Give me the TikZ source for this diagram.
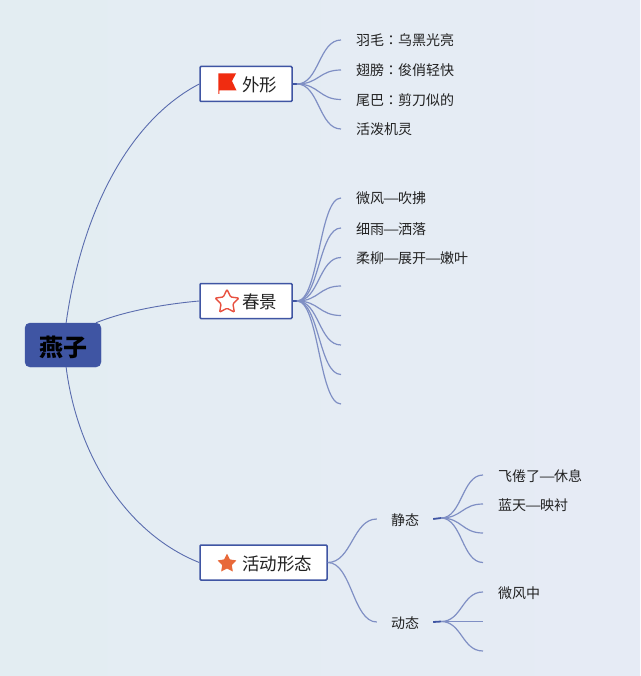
\documentclass[tikz,border=0pt]{standalone}
\usepackage{fontspec}
\setmainfont{Noto Sans CJK SC}
\newfontfamily\tcfont{Noto Sans CJK TC}
\newcommand{\mk}[1]{{\tcfont #1}}
\newcommand{\dsh}{\makebox[14pt]{\scalebox{1.3}[1]{—}}}
\usetikzlibrary{shapes.geometric}
\definecolor{bgL}{HTML}{E3EDF2}
\definecolor{bgR}{HTML}{E6EBF5}
\definecolor{boxblue}{HTML}{3F55A3}
\definecolor{mainline}{HTML}{5A6CAE}
\definecolor{leafline}{HTML}{7F8FC4}
\definecolor{ink}{HTML}{222222}
\definecolor{flagred}{HTML}{F02C10}
\definecolor{starred}{HTML}{E8503F}
\definecolor{starorange}{HTML}{E8693A}
\tikzset{
  rootbox/.style={draw=boxblue,fill=boxblue,rounded corners=5pt,minimum width=76pt,minimum height=44pt,inner sep=0pt,text height=24pt,text depth=2pt,font=\fontsize{24}{24}\selectfont\bfseries,text=black},
  topicbox/.style={draw=boxblue,fill=white,line width=1.5pt,rounded corners=1pt,minimum height=35pt,inner sep=0pt,text height=16.2pt,text depth=1pt,font=\fontsize{17.5}{18}\selectfont,text=ink},
  leaf/.style={anchor=west,inner xsep=15pt,inner ysep=0pt,text height=13pt,text depth=1pt,font=\fontsize{14}{14}\selectfont,text=ink},
  subtopic/.style={anchor=center,inner xsep=14pt,inner ysep=0pt,text height=13pt,text depth=1pt,font=\fontsize{14}{14}\selectfont,text=ink},
  mainlink/.style={draw=mainline,line width=0.9pt},
  leaflink/.style={draw=leafline,line width=1.2pt},
  stub/.style={draw=boxblue,line width=1.8pt},
  staricon/.style={star,star points=5,star point ratio=2.0,inner sep=0pt},
}
\begin{document}
\begin{tikzpicture}[x=1pt,y=-1pt]
\shade[left color=bgL,right color=bgR] (0,0) rectangle (640,676);
\useasboundingbox (0,0) rectangle (640,676);

% main nodes
\node[rootbox] (root) at (63,345) {燕子};
\node[topicbox,minimum width=92pt] (shape) at (246,84) {\hspace*{27pt}外形};
\node[topicbox,minimum width=92pt] (spring) at (246,301) {\hspace*{27pt}春景};
\node[topicbox,minimum width=127pt] (motion) at (263.5,562.5) {\hspace*{27pt}活动形态};

% icons
\fill[flagred] (218.3,73.5) -- (236,73.5) -- (232,81) -- (236.5,90.5) -- (219.3,90.5) -- (219.3,94) -- (218.3,94) -- cycle;
\node[staricon,draw=starred,line width=1.4pt,minimum size=25pt,rounded corners=1pt] (staropen) at (227,302) {};
\node[staricon,fill=starorange,minimum size=20pt,rounded corners=0.5pt] (starfull) at (227,563.5) {};

% main connectors
\draw[mainlink] (root.82) .. controls (82,210) and (130,120) .. (shape.west);
\draw[mainlink] (root.34.5) .. controls (125,311) and (165,304) .. (spring.west);
\draw[mainlink] (root.278) .. controls (78,460) and (130,535) .. (motion.west);

% leaves of shape
\node[leaf] (a1) at (341,40) {羽毛\mk{：}乌黑光亮};
\node[leaf] (a2) at (341,70) {翅膀\mk{：}俊俏轻快};
\node[leaf] (a3) at (341,99.5) {尾巴\mk{：}剪刀似的};
\node[leaf] (a4) at (341,129) {活泼机灵};
\coordinate (hubA) at (297,84);
\draw[stub] (shape.east) -- (hubA);
\foreach \t in {a1,a2,a3,a4}
  \draw[leaflink] (hubA) .. controls +(22,0) and +(-22,0) .. (\t.west);

% leaves of spring
\node[leaf] (b1) at (341,198) {微风\dsh{}吹拂};
\node[leaf] (b2) at (341,228) {细雨\dsh{}洒落};
\node[leaf] (b3) at (341,257.5) {柔柳\dsh{}展开\dsh{}嫩叶};
\coordinate (b4) at (341,286);
\coordinate (b5) at (341,315.5);
\coordinate (b6) at (341,345);
\coordinate (b7) at (341,374.5);
\coordinate (b8) at (341,404);
\coordinate (hubB) at (297,301);
\draw[stub] (spring.east) -- (hubB);
\foreach \t in {b1,b2,b3}
  \draw[leaflink] (hubB) .. controls +(22,0) and +(-22,0) .. (\t.west);
\foreach \t in {b4,b5,b6,b7,b8}
  \draw[leaflink] (hubB) .. controls +(22,0) and +(-22,0) .. (\t);

% motion branch
\node[subtopic] (still) at (405,519) {静态};
\node[subtopic] (moving) at (405,622) {动态};
\draw[leaflink] (motion.east) .. controls +(24,0) and +(-24,0) .. (still.west);
\draw[leaflink] (motion.east) .. controls +(24,0) and +(-24,0) .. (moving.west);

\node[leaf] (c1) at (483,475) {飞倦了\dsh{}休息};
\node[leaf] (c2) at (483,504) {蓝天\dsh{}映衬};
\coordinate (c3) at (483,533);
\coordinate (c4) at (483,562.5);
\coordinate (hubC) at (441,518);
\draw[stub] (still.east) -- (hubC);
\foreach \t in {c1,c2}
  \draw[leaflink] (hubC) .. controls +(21,0) and +(-21,0) .. (\t.west);
\foreach \t in {c3,c4}
  \draw[leaflink] (hubC) .. controls +(21,0) and +(-21,0) .. (\t);

\node[leaf] (d1) at (483,592) {微风中};
\coordinate (d2) at (483,621.5);
\coordinate (d3) at (483,651);
\coordinate (hubD) at (441,621.5);
\draw[stub] (moving.east) -- (hubD);
\draw[leaflink] (hubD) .. controls +(21,0) and +(-21,0) .. (d1.west);
\draw[leaflink] (hubD) -- (d2);
\draw[leaflink] (hubD) .. controls +(21,0) and +(-21,0) .. (d3);
\end{tikzpicture}
\end{document}
